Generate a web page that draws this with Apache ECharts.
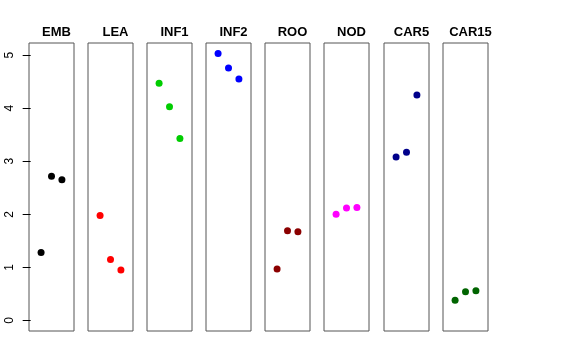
<!DOCTYPE html>
<html><head><meta charset="utf-8">
<script src="https://cdn.jsdelivr.net/npm/echarts@6/dist/echarts.min.js"></script>
<style>html,body{margin:0;padding:0;background:#fff}#c{width:576px;height:360px}</style>
</head><body><div id="c"></div>
<script>
const panels = ['EMB','LEA','INF1','INF2','ROO','NOD','CAR5','CAR15'];
const xPos = [1,2,3];
const EMB = [1.28, 2.72, 2.65];
const LEA = [1.98, 1.15, 0.95];
const INF1 = [4.47, 4.03, 3.43];
const INF2 = [5.03, 4.76, 4.55];
const ROO = [0.97, 1.69, 1.67];
const NOD = [2.00, 2.12, 2.13];
const CAR5 = [3.08, 3.17, 4.25];
const CAR15 = [0.38, 0.54, 0.56];
const yTicks = [0,1,2,3,4,5];
const values = [EMB, LEA, INF1, INF2, ROO, NOD, CAR5, CAR15];
const colors = ['#000000','#FF0000','#00CD00','#0000FF','#8B0000','#FF00FF','#00008B','#006400'];

const lefts = [29, 88, 147, 206, 265, 324, 384, 443];
const W = 45, TOP = 43, H = 288;
const grid = [], xAxis = [], yAxis = [], series = [], title = [];
panels.forEach((p, i) => {
  grid.push({left: lefts[i], top: TOP, width: W, height: H, show: true, borderColor: '#555', borderWidth: 1, backgroundColor: 'transparent'});
  xAxis.push({gridIndex: i, type: 'value', min: -0.16, max: 4.16, show: false});
  yAxis.push({gridIndex: i, type: 'value', min: -0.2, max: 5.23, show: i === 0,
    splitLine: {show: false},
    axisLine: {show: false},
    axisTick: {show: true, length: 8, customValues: yTicks, lineStyle: {color: '#000'}},
    axisLabel: {show: true, rotate: 90, margin: 13, customValues: yTicks, color: '#000', fontSize: 12, fontFamily: 'Liberation Sans'}
  });
  series.push({type: 'scatter', xAxisIndex: i, yAxisIndex: i, symbolSize: 7,
    itemStyle: {color: colors[i], opacity: 1}, silent: true, animation: false,
    data: xPos.map((x, k) => [x, values[i][k]])});
  title.push({text: p, left: lefts[i] + W/2, top: 21, textAlign: 'center',
    textStyle: {fontSize: 13, fontWeight: 'bold', color: '#000', fontFamily: 'Liberation Sans'}});
});
const chart = echarts.init(document.getElementById('c'), null, {renderer: 'canvas'});
chart.setOption({animation: false, title, grid, xAxis, yAxis, series});
</script></body></html>
